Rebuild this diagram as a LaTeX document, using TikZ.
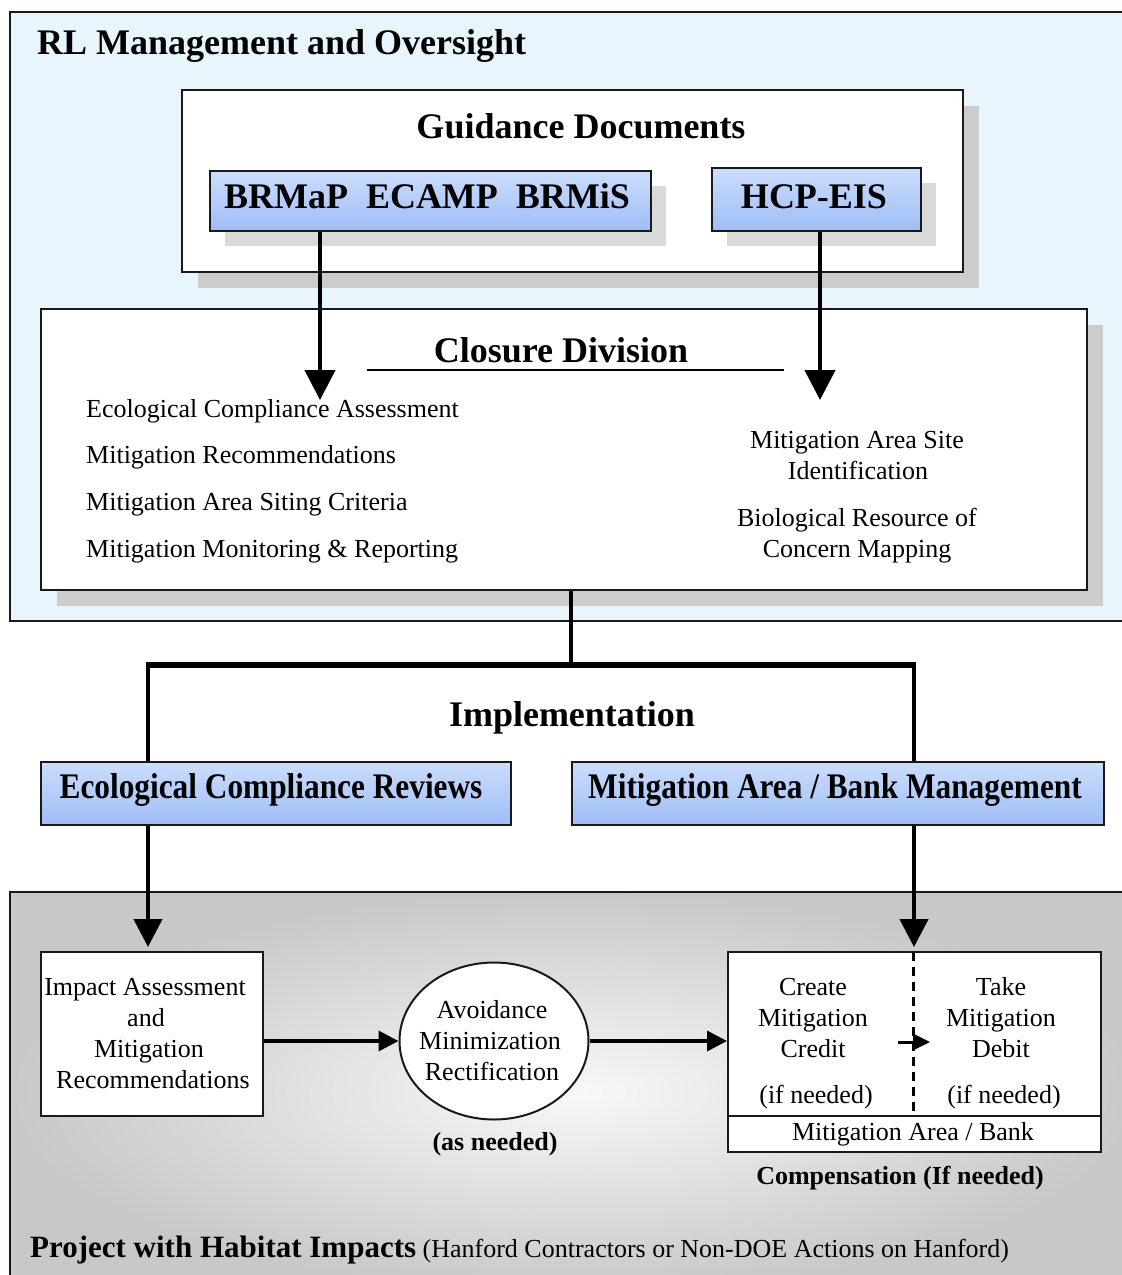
\documentclass[tikz,border=0pt]{standalone}
\usepackage{fontspec}
\usepackage{graphicx}
\setmainfont{Liberation Serif}
\usetikzlibrary{arrows.meta,shadows,shapes.geometric}

\definecolor{rlbg}{RGB}{232,245,253}
\definecolor{blueTop}{RGB}{204,221,253}
\definecolor{blueBot}{RGB}{158,189,246}
\definecolor{shadowA}{RGB}{204,204,204}
\definecolor{shadowB}{RGB}{217,217,217}
\definecolor{grayEdge}{RGB}{200,200,200}
\definecolor{grayMid}{RGB}{248,248,248}

\newcommand\headbf{\fontsize{36}{40}\selectfont\bfseries}
\newcommand\bodytxt{\fontsize{26}{31}\selectfont}
\newcommand\bodybf{\fontsize{26}{31}\selectfont\bfseries}

\begin{document}
\begin{tikzpicture}[x=1pt,y=-1pt,
  frame/.style={draw=black!90,line width=2pt},
  panel/.style={frame,fill=white,inner sep=0pt,anchor=north west},
  bluebox/.style={frame,top color=blueTop,bottom color=blueBot,inner sep=0pt,anchor=north west},
  bigshadow/.style={drop shadow={shadow xshift=16pt,shadow yshift=-16pt,fill=shadowA,opacity=1}},
  smallshadow/.style={drop shadow={shadow xshift=15pt,shadow yshift=-15pt,fill=shadowB,opacity=1}},
  title/.style={font=\headbf,inner sep=0pt,anchor=base},
  label/.style={font=\bodytxt,inner sep=0pt,anchor=base},
  labelL/.style={label,anchor=base west},
  heavy/.style={line width=4.5pt},
  bigarrow/.style={heavy,-{Triangle[length=30pt,width=30pt]}},
  downarrow/.style={heavy,-{Triangle[length=28pt,width=28pt]}},
  flow/.style={line width=3.5pt,-{Triangle[length=20pt,width=20pt]}},
  smallflow/.style={line width=3pt,-{Triangle[length=17pt,width=16pt]}},
]
\useasboundingbox (0,0) rectangle (1122,1275);
\clip (0,0) rectangle (1122,1275);

% ---------- management and oversight panel ----------
\node[frame,fill=rlbg,inner sep=0pt,anchor=north west,minimum width=1126pt,minimum height=609pt] (rl) at (9,11) {};
\node[title,anchor=base west] (rltitle) at (37,54) {RL Management and Oversight};

\node[panel,bigshadow,minimum width=781pt,minimum height=182pt] (guide) at (181,89) {};
\node[title] (guidetitle) at (581,138) {Guidance Documents};

\node[bluebox,smallshadow,minimum width=441pt,minimum height=60pt] (brmap) at (209,170) {};
\node[title] (brmaptext) at (427,208) {BRMaP\ \ ECAMP\ \ BRMiS};
\node[bluebox,smallshadow,minimum width=209pt,minimum height=63pt] (hcp) at (711,167) {};
\node[title] (hcptext) at (814,208) {HCP-EIS};

\node[panel,bigshadow,minimum width=1046pt,minimum height=281pt] (closure) at (40,308) {};
\node[title] (closuretitle) at (561,362) {Closure Division};
\coordinate (ulA) at (367,370);
\coordinate (ulB) at (784,370);
\draw[line width=2.5pt] (ulA) -- (ulB);

\node[labelL] (c1) at (86,417) {Ecological Compliance Assessment};
\node[labelL] (c2) at (86,463) {Mitigation Recommendations};
\node[labelL] (c3) at (86,510) {Mitigation Area Siting Criteria};
\node[labelL] (c4) at (86,557) {Mitigation Monitoring \& Reporting};

\node[label] (r1) at (857,448) {Mitigation Area Site};
\node[label] (r2) at (858,479) {Identification};
\node[label] (r3) at (857,526) {Biological Resource of};
\node[label] (r4) at (857,557) {Concern Mapping};

% ---------- implementation ----------
\node[title] (impl) at (572,726) {Implementation};
\node[bluebox,minimum width=470pt,minimum height=63pt] (ecr) at (40,761) {};
\node[title] (ecrtext) at (271,798) {\scalebox{0.87}[1]{Ecological Compliance Reviews}};
\node[bluebox,minimum width=532pt,minimum height=63pt] (mabm) at (571,761) {};
\node[title] (mabmtext) at (835,798) {\scalebox{0.87}[1]{Mitigation Area / Bank Management}};

% ---------- project panel ----------
\node[frame,inner color=grayMid,outer color=grayEdge,inner sep=0pt,anchor=north west,minimum width=1126pt,minimum height=400pt] (proj) at (9,891) {};

\node[panel,minimum width=222pt,minimum height=164pt] (impact) at (40,951) {};
\node[label] (i1) at (145,995) {Impact Assessment};
\node[label] (i2) at (146,1026) {and};
\node[label] (i3) at (149,1057) {Mitigation};
\node[label] (i4) at (153,1088) {Recommendations};

\node[ellipse,frame,fill=white,inner sep=0pt,minimum width=189pt,minimum height=157pt] (avoid) at (494,1041) {};
\node[label] (a1) at (492,1018) {Avoidance};
\node[label] (a2) at (490,1049) {Minimization};
\node[label] (a3) at (492,1080) {Rectification};
\node[label,font=\bodybf] (asneeded) at (495,1150) {(as needed)};

\node[panel,minimum width=373pt,minimum height=164pt] (comp) at (727,951) {};
\node[panel,minimum width=373pt,minimum height=36pt] (bank) at (727,1115) {};
\node[label] (banktext) at (913,1140) {Mitigation Area / Bank};
\coordinate (dashTop) at (913,952);
\coordinate (dashBot) at (913,1114);
\draw[line width=3pt,dash pattern=on 9pt off 6pt] (dashTop) -- (dashBot);

\node[label] (k1) at (813,995) {Create};
\node[label] (k2) at (813,1026) {Mitigation};
\node[label] (k3) at (813,1057) {Credit};
\node[label] (k4) at (816,1103) {(if needed)};
\node[label] (d1) at (1001,995) {Take};
\node[label] (d2) at (1001,1026) {Mitigation};
\node[label] (d3) at (1001,1057) {Debit};
\node[label] (d4) at (1004,1103) {(if needed)};

\node[label,font=\bodybf] (compcap) at (900,1184) {Compensation (If needed)};

\node[inner sep=0pt,anchor=base west] (projtitle) at (30,1257)
  {{\fontsize{31}{36}\selectfont\bfseries Project with Habitat Impacts}\bodytxt\ (Hanford Contractors or Non-DOE Actions on Hanford)};

% ---------- connectors ----------
\coordinate (tipL) at (320,400);
\coordinate (tipR) at (820,400);
\draw[bigarrow] (tipL |- brmap.south) -- (tipL);
\draw[bigarrow] (tipR |- hcp.south) -- (tipR);

\coordinate (split) at (571,665);
\coordinate (jl) at (148,665);
\coordinate (jr) at (914,665);
\draw[heavy] (split |- closure.south) -- (split);
\draw[line width=6pt] ([xshift=-2.25pt]jl) -- ([xshift=2.25pt]jr);
\draw[heavy] (jl) -- (jl |- ecr.north);
\draw[heavy] (jr) -- (jr |- mabm.north);

\coordinate (tipIA) at (148,947);
\coordinate (tipCP) at (914,947);
\draw[downarrow] (tipIA |- ecr.south) -- (tipIA);
\draw[downarrow] (tipCP |- mabm.south) -- (tipCP);

\draw[flow] (avoid.west -| impact.east) -- (avoid.west);
\draw[flow] (avoid.east) -- (avoid.east -| comp.west);
\coordinate (cd1) at (898,1042);
\coordinate (cd2) at (930,1042);
\draw[smallflow] (cd1) -- (cd2);
\end{tikzpicture}
\end{document}
